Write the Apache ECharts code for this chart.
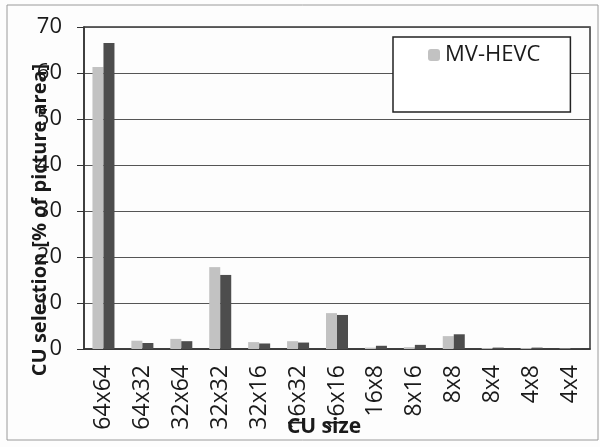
<!DOCTYPE html>
<html>
<head>
<meta charset="utf-8">
<script src="https://cdn.jsdelivr.net/npm/echarts@6/dist/echarts.min.js"></script>
<style>
  html, body { margin: 0; padding: 0; background: #fff; }
  #main { width: 600px; height: 447px; }
</style>
</head>
<body>
<div id="main"></div>
<script>
const cuSizes = ['64x64', '64x32', '32x64', '32x32', '32x16', '16x32', '16x16', '16x8', '8x16', '8x8', '8x4', '4x8', '4x4'];
const mvHevc = [61.3, 1.8, 2.2, 17.8, 1.5, 1.7, 7.8, 0.3, 0.4, 2.8, 0.2, 0.2, 0.1];
const otherCodec = [66.5, 1.3, 1.7, 16.1, 1.2, 1.4, 7.4, 0.7, 0.9, 3.2, 0.3, 0.3, 0.1];
const yTicks = [0, 10, 20, 30, 40, 50, 60, 70];

const chart = echarts.init(document.getElementById('main'));
const font = 'Open Sans';

const option = {
  backgroundColor: '#fdfdfd',
  animation: false,
  graphic: [
    {
      type: 'rect',
      shape: { x: 7, y: 5, width: 591, height: 435 },
      style: { fill: 'none', stroke: '#9a9a9a', lineWidth: 1 },
      silent: true
    }
  ],
  legend: {
    data: ['MV-HEVC'],
    left: 393,
    top: 37,
    padding: [7, 30, 46, 35],
    borderColor: '#222',
    borderWidth: 1.5,
    backgroundColor: '#fff',
    itemWidth: 12,
    itemHeight: 12,
    itemGap: 8,
    textStyle: { fontFamily: font, fontSize: 22, color: '#1a1a1a' }
  },
  grid: {
    left: 84, right: 10, top: 27, bottom: 98,
    show: true, borderColor: '#333', borderWidth: 1.5
  },
  xAxis: {
    type: 'category',
    data: cuSizes,
    name: 'CU size',
    nameLocation: 'middle',
    nameGap: 68,
    nameMoveOverlap: false,
    nameTextStyle: {
      fontFamily: font, fontSize: 21, fontWeight: 'bold', color: '#1a1a1a',
      padding: [0, 26, 0, 0]
    },
    axisLine: { lineStyle: { color: '#333', width: 1.5 } },
    axisTick: { show: false },
    axisLabel: {
      rotate: 90, margin: 16, interval: 0,
      fontFamily: font, fontSize: 23, color: '#1a1a1a'
    }
  },
  yAxis: {
    type: 'value',
    min: 0, max: 70, interval: 10,
    name: 'CU selection [% of picture area]',
    nameLocation: 'middle',
    nameGap: 34,
    nameMoveOverlap: false,
    nameTextStyle: {
      fontFamily: font, fontSize: 20, fontWeight: 'bold', color: '#1a1a1a',
      padding: [0, 64, 0, 0]
    },
    axisLine: { show: true, lineStyle: { color: '#333', width: 1.5 } },
    axisTick: { show: true, length: 7, lineStyle: { color: '#333' } },
    axisLabel: {
      margin: 22, fontFamily: font, fontSize: 22, color: '#1a1a1a',
      formatter: v => yTicks.includes(v) ? String(v) : ''
    },
    splitLine: { lineStyle: { color: '#555', width: 1.2 } }
  },
  series: [
    {
      name: 'MV-HEVC',
      type: 'bar',
      data: mvHevc,
      barWidth: 11,
      barGap: '0%',
      itemStyle: { color: '#c2c2c2' }
    },
    {
      name: 'Other',
      type: 'bar',
      data: otherCodec,
      barWidth: 11,
      itemStyle: { color: '#4d4d4d' }
    }
  ]
};

chart.setOption(option);
</script>
</body>
</html>
